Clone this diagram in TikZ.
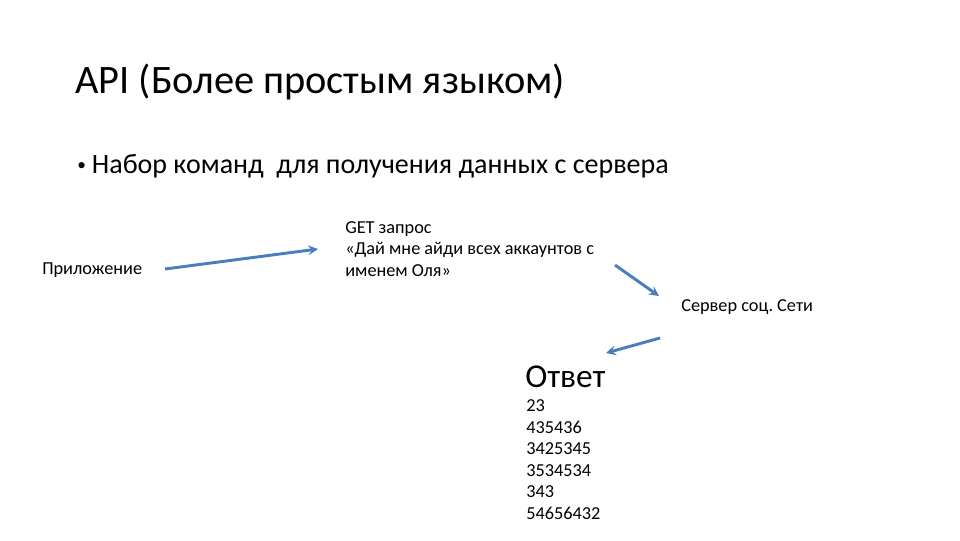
\documentclass[tikz,border=0pt]{standalone}
\usepackage{fontspec}
\setmainfont{Carlito}
\frenchspacing
\definecolor{arrblue}{RGB}{74,126,187}

\begin{document}
\begin{tikzpicture}[x=0.75pt,y=-0.75pt,>=stealth,
  txt/.style={anchor=base west,inner sep=0pt,align=left,font=\fontsize{13.7}{16.1}\selectfont},
  head/.style={txt,font=\fontsize{30.3}{36}\selectfont},
  point/.style={txt,font=\fontsize{21}{25}\selectfont},
  big/.style={txt,font=\fontsize{25}{30}\selectfont},
  arr/.style={->,draw=arrblue,line width=2.2pt}]
\useasboundingbox (0,0) rectangle (960,540);

% titles
\node[head] (title) at (75,93) {API (Более простым языком)};
\node[point] (item) at (77,173) {\makebox[11pt][l]{\raisebox{1.8pt}{\fontsize{13}{13}\selectfont •}}Набор команд\ \ для получения данных с сервера};

% base anchor of a multi-line node is its last line
\node[txt] (app) at (42,274) {Приложение};
\node[txt] (req) at (345,276) {GET запрос\\«Дай мне айди всех аккаунтов с\\именем Оля»};
\node[txt] (srv) at (681,311) {Сервер соц. Сети};
\node[big] (ans) at (525,387) {Ответ};
\node[txt] (nums) at (526,519) {23\\435436\\3425345\\3534534\\343\\54656432};

\coordinate (app out) at (165,269);
\coordinate (req in) at (318,249);
\coordinate (req out) at (615,265);
\coordinate (srv in) at (659,296);
\coordinate (srv out) at (660,338);
\coordinate (ans in) at (606,353);

\draw[arr] (app out) -- (req in);
\draw[arr] (req out) -- (srv in);
\draw[arr] (srv out) -- (ans in);
\end{tikzpicture}
\end{document}
